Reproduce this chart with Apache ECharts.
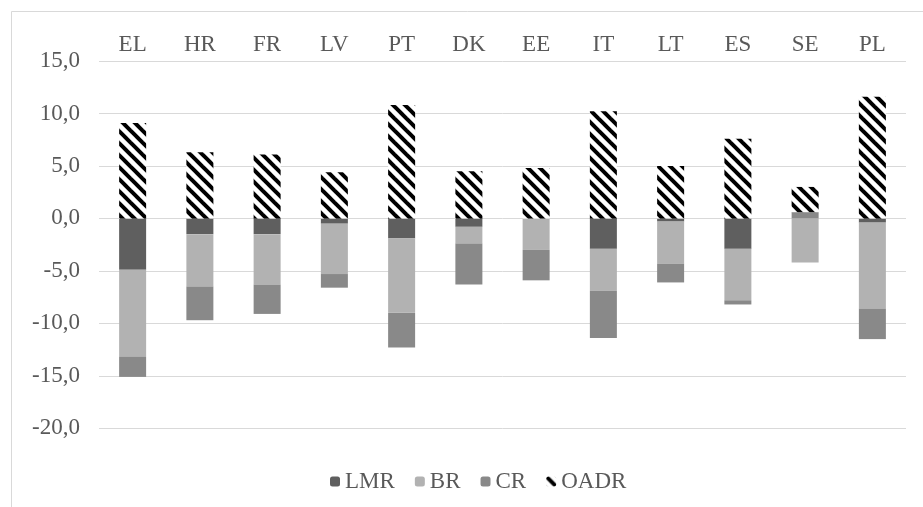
<!DOCTYPE html>
<html>
<head>
<meta charset="utf-8">
<script src="https://cdn.jsdelivr.net/npm/echarts@6/dist/echarts.min.js"></script>
<style>
html,body{margin:0;padding:0;background:#fff;}
#chart{width:923px;height:507px;}
</style>
</head>
<body>
<div id="chart"></div>
<script>
const categories = ['EL','HR','FR','LV','PT','DK','EE','IT','LT','ES','SE','PL'];
const LMR  = [-4.9,-1.5,-1.5,-0.5,-1.9,-0.8, 0.0,-2.9,-0.3,-2.9, 0.0,-0.4];
const BR   = [-8.3,-5.0,-4.8,-4.8,-7.1,-1.6,-3.0,-4.0,-4.0,-4.9,-4.2,-8.2];
const CR   = [-1.9,-3.2,-2.8,-1.3,-3.3,-3.9,-2.9,-4.5,-1.8,-0.4, 0.6,-2.9];
const OADR = [ 9.1, 6.3, 6.1, 4.4,10.8, 4.5, 4.8,10.2, 5.0, 7.6, 2.4,11.6];
const yTicks = { min: -20, max: 15, interval: 5 };

// hatch pattern for OADR
const tile = 12;
const cv = document.createElement('canvas');
cv.width = tile; cv.height = tile;
const cx = cv.getContext('2d');
cx.fillStyle = '#ffffff';
cx.fillRect(0,0,tile,tile);
cx.strokeStyle = '#000000';
cx.lineWidth = 4;
for (let k = -1; k <= 1; k++) {
  cx.beginPath();
  cx.moveTo(k*tile - 2, -2);
  cx.lineTo(k*tile + tile + 2, tile + 2);
  cx.stroke();
}
const hatch = { image: cv, repeat: 'repeat' };

const font = "'Liberation Serif','Times New Roman',serif";
const txt = '#595959';

const chart = echarts.init(document.getElementById('chart'));
chart.setOption({
  animation: false,
  backgroundColor: '#ffffff',
  textStyle: { fontFamily: font },
  graphic: [{
    type: 'rect',
    shape: { x: 11.5, y: 11.5, width: 1000, height: 1000 },
    style: { fill: 'none', stroke: '#d9d9d9', lineWidth: 1 },
    silent: true, z: -10
  }],
  grid: { left: 99, right: 17, top: 61, bottom: 78.7 },
  legend: {
    left: 325, top: 465,
    itemWidth: 10, itemHeight: 10, itemGap: 20,
    textStyle: { fontFamily: font, fontSize: 23, color: txt },
    data: ['LMR','BR','CR','OADR']
  },
  xAxis: {
    type: 'category',
    position: 'top',
    data: categories,
    axisLine: { show: false },
    axisTick: { show: false },
    axisLabel: { fontFamily: font, fontSize: 23, color: txt, margin: 5 }
  },
  yAxis: {
    type: 'value',
    min: yTicks.min, max: yTicks.max, interval: yTicks.interval,
    axisLine: { show: false },
    axisTick: { show: false },
    splitLine: { lineStyle: { color: '#d9d9d9', width: 1 } },
    axisLabel: {
      fontFamily: font, fontSize: 23, color: txt, margin: 19,
      formatter: v => v.toFixed(1).replace('.', ',')
    }
  },
  series: [
    { name: 'LMR', type: 'bar', stack: 'a', barWidth: 27, data: LMR, itemStyle: { color: '#5f5f5f' } },
    { name: 'BR', type: 'bar', stack: 'a', data: BR, itemStyle: { color: '#b2b2b2' } },
    { name: 'CR', type: 'bar', stack: 'a', data: CR, itemStyle: { color: '#898989' } },
    { name: 'OADR', type: 'bar', stack: 'a', data: OADR, itemStyle: { color: hatch } }
  ]
});
</script>
</body>
</html>
